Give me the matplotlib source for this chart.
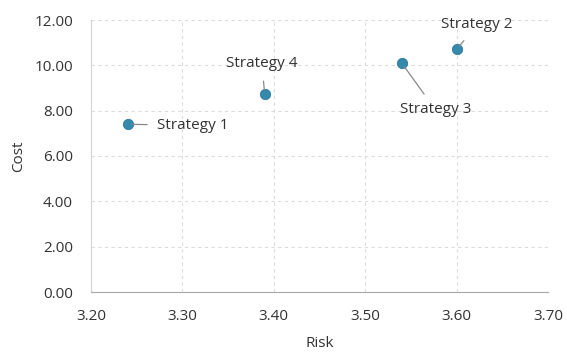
import matplotlib
matplotlib.use("Agg")
import matplotlib.pyplot as plt
from matplotlib.ticker import FormatStrFormatter

plt.rcParams['font.family'] = ['Open Sans', 'DejaVu Sans']

strategies = ["Strategy 1", "Strategy 2", "Strategy 3", "Strategy 4"]
risk = [3.24, 3.60, 3.54, 3.39]
cost = [7.40, 10.70, 10.10, 8.75]
x_ticks = [3.20, 3.30, 3.40, 3.50, 3.60, 3.70]
y_ticks = [0, 2, 4, 6, 8, 10, 12]

# label text position offsets (in data units) for each strategy
label_offsets = {
    "Strategy 1": (0.032, -0.05, "left", "center"),
    "Strategy 2": (0.022, 1.08, "center", "center"),
    "Strategy 3": (0.037, -2.07, "center", "center"),
    "Strategy 4": (-0.003, 1.31, "center", "center"),
}

fig = plt.figure(figsize=(5.67, 3.53), dpi=100)
ax = fig.add_axes([91 / 567, 1 - 292 / 353, (548 - 91) / 567, (292 - 20) / 353])

ax.set_xlim(3.20, 3.70)
ax.set_ylim(0, 12)
ax.set_xticks(x_ticks)
ax.set_yticks(y_ticks)
ax.xaxis.set_major_formatter(FormatStrFormatter('%.2f'))
ax.yaxis.set_major_formatter(FormatStrFormatter('%.2f'))
ax.tick_params(length=0, labelsize=11, colors='#333333')
ax.tick_params(axis='y', pad=13)
ax.tick_params(axis='x', pad=12)

ax.grid(True, linestyle=(0, (3, 3)), color='#dcdcdc', linewidth=0.8)
ax.set_axisbelow(True)
for side in ['top', 'right']:
    ax.spines[side].set_visible(False)
ax.spines['left'].set_color('#d4d4d4')
ax.spines['bottom'].set_color('#a8a8a8')

ax.scatter(risk, cost, s=55, color='#3589ad', edgecolor='#2a7a9c', linewidth=0.6, zorder=3)

for name, xv, yv in zip(strategies, risk, cost):
    dx, dy, ha, va = label_offsets[name]
    ax.annotate(name, xy=(xv, yv), xytext=(xv + dx, yv + dy),
                ha=ha, va=va, fontsize=11, color='#333333',
                arrowprops=dict(arrowstyle='-', color='#888888', lw=0.9,
                                shrinkA=5, shrinkB=3))

ax.set_xlabel("Risk", fontsize=11, color='#333333', labelpad=9)
ax.set_ylabel("Cost", fontsize=11, color='#333333', labelpad=6)

fig.savefig("out.png", dpi=100)
